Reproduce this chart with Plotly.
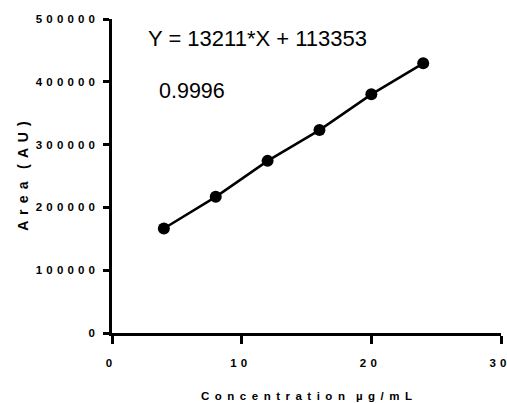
import plotly.graph_objects as go

concentration = [4, 8, 12, 16, 20, 24]
area = [166400, 216800, 274100, 323100, 380000, 429400]

x_tick_vals = [0, 10, 20, 30]
y_tick_vals = [0, 100000, 200000, 300000, 400000, 500000]

equation_text = "Y = 13211*X + 113353"
r2_text = "0.9996"
x_title = "Concentration µg/mL"
y_title = "Area (AU)"

TICK_SP = " \u200a"
TITLE_SP = " \u2009"
YTITLE_SP = " \u2006"


def spaced(s, sp):
    words = s.split(" ")
    return (sp + sp).join(sp.join(list(w)) for w in words)


fig = go.Figure()
fig.add_trace(go.Scatter(
    x=concentration, y=area, mode="lines+markers",
    line=dict(color="black", width=2.5),
    marker=dict(color="black", size=12),
    showlegend=False,
))

font_family = "Liberation Sans, Arial, sans-serif"
tick_font = dict(family=font_family, size=11.5, color="black", weight="bold")
ytitle_font = dict(family=font_family, size=14, color="black", weight="bold")

fig.update_layout(
    width=507, height=403,
    margin=dict(l=112, r=6, t=19, b=70),
    paper_bgcolor="white", plot_bgcolor="white",
    xaxis=dict(
        range=[0, 30], tickvals=x_tick_vals,
        ticktext=[spaced(str(v), TICK_SP) for v in x_tick_vals],
        showgrid=False, zeroline=False, showline=True,
        linecolor="black", linewidth=2.5,
        ticks="outside", ticklen=8, tickwidth=2.5, tickcolor="black",
        tickfont=tick_font, ticklabelstandoff=9, ticklabeloverflow="allow",
        ticklabelshift=-3,
        title=dict(text=spaced(x_title, TITLE_SP), font=tick_font, standoff=25),
        automargin=False,
    ),
    yaxis=dict(
        range=[0, 500000], tickvals=y_tick_vals,
        ticktext=[spaced(str(v), TICK_SP) for v in y_tick_vals],
        showgrid=False, zeroline=False, showline=True,
        linecolor="black", linewidth=2.5,
        ticks="outside", ticklen=6, tickwidth=2.5, tickcolor="black",
        tickfont=tick_font, ticklabelstandoff=6, ticklabeloverflow="allow",
        title=dict(text=spaced(y_title, YTITLE_SP), font=ytitle_font, standoff=4),
        automargin=False,
    ),
    annotations=[
        dict(x=2.62, y=468900, xref="x", yref="y", text=equation_text,
             showarrow=False, xanchor="left", yanchor="middle",
             font=dict(family=font_family, size=22, color="black")),
        dict(x=3.47, y=385600, xref="x", yref="y", text=r2_text,
             showarrow=False, xanchor="left", yanchor="middle",
             font=dict(family=font_family, size=21.5, color="black")),
    ],
)

fig.write_html(
    "out.html",
    config={"displayModeBar": False},
    post_script="document.body.style.margin='0';document.body.style.overflow='hidden';",
)
